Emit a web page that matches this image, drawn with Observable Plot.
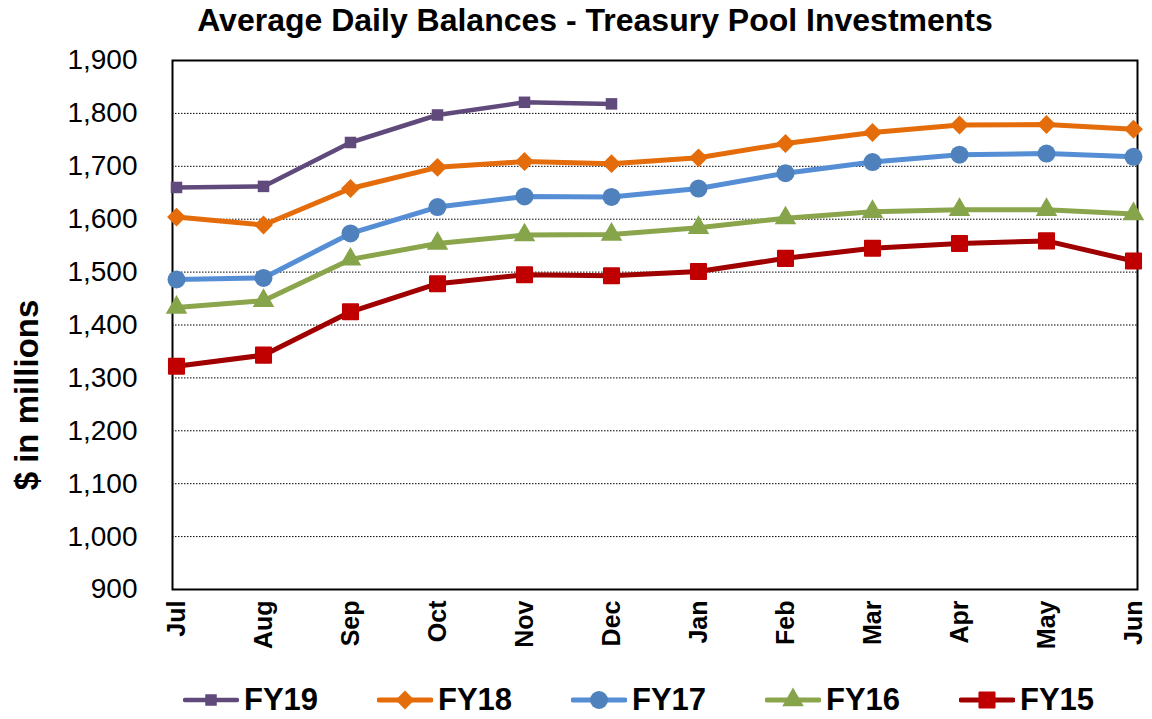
<!DOCTYPE html>
<html><head><meta charset="utf-8">
<script src="https://cdn.jsdelivr.net/npm/d3@7"></script>
<script src="https://cdn.jsdelivr.net/npm/@observablehq/plot@0.6"></script>
<style>
body{margin:0;background:#fff;font-family:"Liberation Sans",Arial,sans-serif;width:1152px;}
#title{height:40px;line-height:40px;text-align:center;font-weight:bold;font-size:32px;color:#000;padding-left:38px;box-sizing:border-box;white-space:nowrap;}
#legend{height:39px;display:flex;align-items:center;padding-left:183px;box-sizing:border-box;}
.item{display:flex;align-items:center;width:194px;flex:none;}
.item span{font-weight:bold;font-size:31px;margin-left:5px;color:#000;}
</style>
</head><body>
<div id="title">Average Daily Balances - Treasury Pool Investments</div>
<div id="chart"></div>
<div id="legend"></div>
<script>
const months = ["Jul","Aug","Sep","Oct","Nov","Dec","Jan","Feb","Mar","Apr","May","Jun"];
const fy19 = [1660,1662,1745,1797,1821,1818];
const fy18 = [1604,1589,1658,1698,1709,1705,1716,1743,1764,1778,1779,1770];
const fy17 = [1486,1489,1573,1623,1643,1642,1658,1687,1708,1722,1724,1718];
const fy16 = [1433,1446,1524,1554,1570,1571,1584,1602,1614,1618,1618,1610];
const fy15 = [1322,1343,1425,1478,1495,1493,1501,1526,1545,1554,1559,1521];
const yTicks = [900,1000,1100,1200,1300,1400,1500,1600,1700,1800,1900];
const gridTicks = yTicks.slice(1, -1);
const seriesNames = ["FY19","FY18","FY17","FY16","FY15"];
const seriesValues = [fy19, fy18, fy17, fy16, fy15];

const styles = {
  FY19: {line:"#604A7B", marker:"#604A7B", symbol:"square", r:6.5, lw:4.5},
  FY18: {line:"#E46C0A", marker:"#E46C0A", symbol:"diamond2", r:8.5, lw:5},
  FY17: {line:"#558ED5", marker:"#4F81BD", symbol:"circle", r:9, lw:5},
  FY16: {line:"#8BA54C", marker:"#86A44A", symbol:"triangle", r:8, lw:5},
  FY15: {line:"#A00000", marker:"#C00000", symbol:"square", r:8.5, lw:5}
};

const table = seriesNames.flatMap((s, i) => seriesValues[i].map((v, j) => ({series: s, month: months[j], value: v})));

const marks = [
  Plot.ruleY(gridTicks, {stroke:"#000", strokeDasharray:"1.5,1.5", strokeWidth:1}),
  Plot.axisY({ticks: yTicks, tickFormat: d3.format(","), tickSize: 0, tickPadding: 35, fontSize: 28, fill: "#000", label: null}),
  Plot.axisX({tickSize: 0, tickPadding: 11, tickRotate: -90, fontSize: 25, fontWeight: "bold", fill: "#000", label: null}),
  Plot.frame({stroke:"#000", strokeWidth:2})
];
for (const s of [...seriesNames].reverse()) {
  const st = styles[s];
  const d = table.filter(r => r.series === s);
  marks.push(Plot.line(d, {x:"month", y:"value", stroke: st.line, strokeWidth: st.lw, strokeLinejoin:"round"}));
  marks.push(Plot.dot(d, {x:"month", y:"value", symbol: st.symbol, r: st.r, fill: st.marker, stroke: st.marker, strokeWidth: s === "FY15" ? 2 : 0, strokeLinejoin:"round"}));
}
marks.push(Plot.text(["$ in millions"], {frameAnchor:"left", textAnchor:"middle", dx:-145, dy:70, rotate:-90, fontSize:33, fontWeight:"bold", fill:"#000"}));

const chart = Plot.plot({
  width: 1152, height: 640,
  marginLeft: 172, marginRight: 15, marginTop: 20, marginBottom: 91,
  x: {type:"point", domain: months, padding: 0},
  y: {domain: [900, 1900]},
  style: {fontFamily: "'Liberation Sans', Arial, sans-serif", background: "#fff", overflow: "visible"},
  marks
});
document.getElementById("chart").appendChild(chart);

const symMap = {square: d3.symbolSquare, diamond2: d3.symbolDiamond2, circle: d3.symbolCircle, triangle: d3.symbolTriangle};
const legend = d3.select("#legend");
for (const s of seriesNames) {
  const st = styles[s];
  const item = legend.append("div").attr("class","item");
  const svg = item.append("svg").attr("width", 56).attr("height", 30);
  svg.append("line").attr("x1", 2).attr("x2", 54).attr("y1", 15).attr("y2", 15)
    .attr("stroke", st.line).attr("stroke-width", st.lw).attr("stroke-linecap","round");
  svg.append("path").attr("transform","translate(28,15)")
    .attr("d", d3.symbol(symMap[st.symbol], Math.PI * st.r * st.r)())
    .attr("fill", st.marker).attr("stroke", st.marker).attr("stroke-width", s === "FY15" ? 2 : 0).attr("stroke-linejoin","round");
  item.append("span").text(s);
}
</script>
</body></html>
